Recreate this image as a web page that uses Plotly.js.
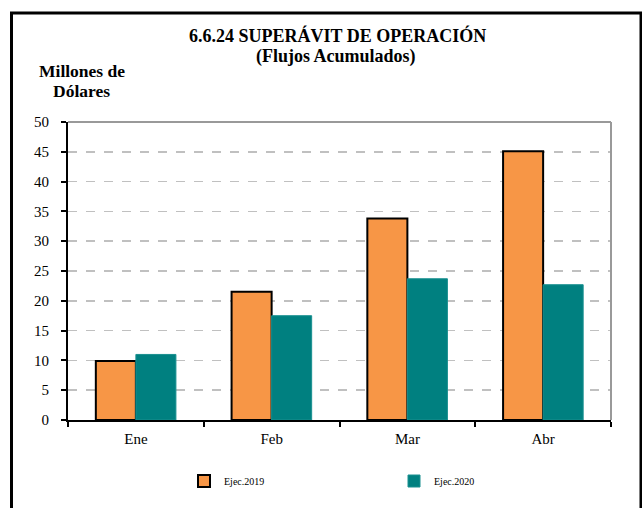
<!DOCTYPE html>
<html>
<head>
<meta charset="utf-8">
<script src="https://cdn.plot.ly/plotly-3.0.1.min.js"></script>
<style>html,body{margin:0;padding:0;background:#fff;}#chart{width:642px;height:508px;}</style>
</head>
<body>
<div id="chart"></div>
<script>
const categories = ["Ene", "Feb", "Mar", "Abr"];
const ejec2019 = [9.9, 21.5, 33.8, 45.1];
const ejec2020 = [11.0, 17.5, 23.7, 22.7];
const yTicks = [0, 5, 10, 15, 20, 25, 30, 35, 40, 45, 50];
const titleLines = ["6.6.24 SUPERÁVIT DE OPERACIÓN", "(Flujos Acumulados)"];
const yTitleLines = ["Millones de", "Dólares"];

const L = 68, R = 611, T = 122, B = 420, W = 642, H = 508;
const pw = R - L, ph = B - T;
function px(x) { return (x - L) / pw; }
function py(y) { return (B - y) / ph; }
const SERIF = "Liberation Serif";

const traces = [
  {type: "bar", name: "Ejec.2019", x: categories, y: ejec2019,
   marker: {color: "#F79646", line: {color: "#000000", width: 2}}},
  {type: "bar", name: "Ejec.2020", x: categories, y: ejec2020,
   marker: {color: "#008080", line: {color: "#1a9090", width: 1}}}
];

function ann(text, x, y, size) {
  return {text: "<b>" + text + "</b>", xref: "paper", yref: "paper", x: px(x), y: py(y),
          showarrow: false, font: {size: size, family: SERIF}, xanchor: "center", yanchor: "middle"};
}

const layout = {
  width: W, height: H,
  margin: {l: L, r: W - R, t: T, b: H - B, pad: 0},
  paper_bgcolor: "#ffffff", plot_bgcolor: "#ffffff",
  font: {family: SERIF, color: "#000", size: 15},
  barmode: "group", bargap: 0.41, bargroupgap: 0,
  showlegend: true,
  legend: {orientation: "h", x: px(184), y: py(481), xanchor: "left", yanchor: "middle",
           font: {size: 10, family: SERIF}, entrywidth: 165, itemwidth: 30,
           bgcolor: "rgba(0,0,0,0)"},
  xaxis: {showline: true, linecolor: "#000", linewidth: 2, mirror: false,
          ticks: "outside", tickson: "boundaries", ticklen: 5, tickcolor: "#000", tickwidth: 2,
          showgrid: false, tickfont: {size: 15, family: SERIF}, ticklabelstandoff: 4},
  yaxis: {range: [0, 50], tickvals: yTicks, ticktext: yTicks.map(String),
          showline: true, linecolor: "#000", linewidth: 2,
          ticks: "outside", ticklen: 5, tickcolor: "#000", tickwidth: 2,
          showgrid: true, gridcolor: "#c0c0c0", griddash: "dash", gridwidth: 1.5,
          zeroline: false, tickfont: {size: 15, family: SERIF}, ticklabelstandoff: 9, fixedrange: true},
  annotations: [
    ann(titleLines[0], 337, 35, 18),
    ann(titleLines[1], 336, 56, 18),
    ann(yTitleLines[0], 82, 71, 17.5),
    ann(yTitleLines[1], 81, 91, 17.5)
  ],
  shapes: [
    {type: "line", xref: "paper", yref: "paper", x0: 0, x1: 1, y0: 1, y1: 1,
     line: {color: "#999", width: 2}},
    {type: "line", xref: "paper", yref: "paper", x0: 1, x1: 1, y0: 0, y1: 1,
     line: {color: "#999", width: 2}},
    {type: "rect", xref: "paper", yref: "paper", x0: px(11.5), x1: px(641), y0: py(13), y1: py(520),
     line: {color: "#000", width: 3}, fillcolor: "rgba(0,0,0,0)"}
  ]
};

Plotly.newPlot("chart", traces, layout, {displayModeBar: false, staticPlot: true});
</script>
</body>
</html>
